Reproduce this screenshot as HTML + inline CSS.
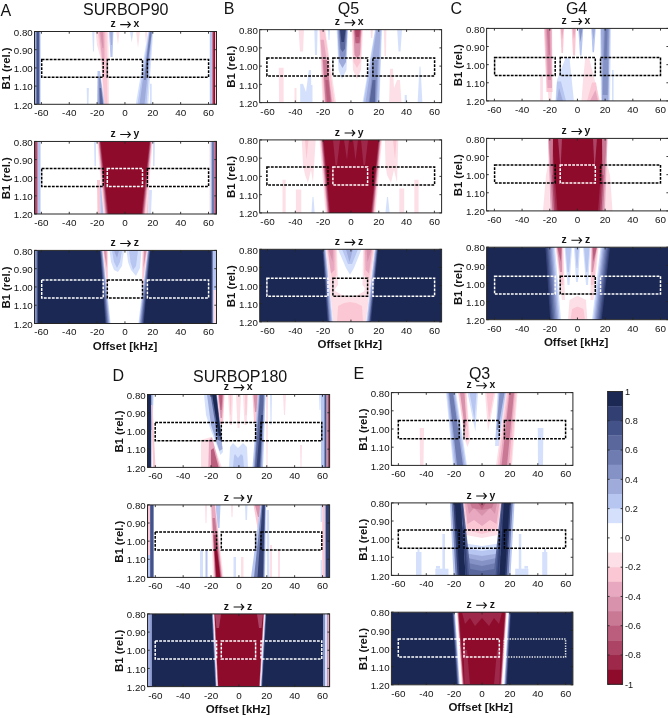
<!DOCTYPE html>
<html><head><meta charset="utf-8"><style>
html,body{margin:0;padding:0;background:#fff;}
body{width:668px;height:718px;overflow:hidden;}
svg{display:block;will-change:transform;}
text{font-family:"Liberation Sans",sans-serif;fill:#141414;}
</style></head><body>
<svg width="668" height="718" viewBox="0 0 668 718" shape-rendering="geometricPrecision">
<clipPath id="cA0"><rect x="34.5" y="31.5" width="182" height="72.8"/></clipPath>
<g clip-path="url(#cA0)">
<rect x="35" y="31.5" width="6" height="72.8" fill="#d5e1fc"/>
<rect x="35" y="31.5" width="5" height="72.8" fill="#9eabdb"/>
<rect x="36.3" y="31.5" width="3" height="72.8" fill="#59679d"/>
<rect x="37" y="31.5" width="1.7" height="72.8" fill="#44528a"/>
<rect x="209.8" y="31.5" width="2.4" height="72.8" fill="#b7c5f1"/>
<rect x="212.2" y="31.5" width="1" height="72.8" fill="#bb5e7e"/>
<rect x="213.2" y="31.5" width="1.8" height="72.8" fill="#8e0b2b"/>
<rect x="215" y="31.5" width="1.5" height="72.8" fill="#fbc7d4"/>
<polygon points="92.2,31.5 94.5,31.5 94,51.4 93,51.4" fill="#d5e1fc"/>
<polygon points="95.6,31.5 108.4,31.5 109,104.3 103.4,104.3 101,60 97,45" fill="#fde0e7"/>
<polygon points="97.5,31.5 106.5,31.5 107.5,104.3 104.5,104.3 101.5,60" fill="#fbc7d4"/>
<polygon points="99,31.5 104.5,31.5 104.5,62 102.5,62" fill="#e8a9c0"/>
<polygon points="100,31.5 103,31.5 103.5,48 102.5,48" fill="#d892ac"/>
<polygon points="109,31.5 113.4,31.5 112.5,57 110.5,57" fill="#b7c5f1"/>
<polygon points="110,31.5 112.5,31.5 112,45 111,45" fill="#9eabdb"/>
<polygon points="116.2,31.5 119.5,31.5 118,44.7" fill="#fde0e7"/>
<polygon points="97.5,71 100,71 104.5,104.3 97,104.3" fill="#b7c5f1"/>
<polygon points="98.5,78 100.5,78 103.5,104.3 98.5,104.3" fill="#8592c5"/>
<polygon points="99.5,88 101,88 103,104.3 100,104.3" fill="#59679d"/>
<polygon points="86.7,88 88.9,88 88.5,104.3 87,104.3" fill="#d5e1fc"/>
<polygon points="148.2,31.5 153.2,31.5 148.25,104.3 135.75,104.3" fill="#d5e1fc"/>
<polygon points="149.05,31.5 152.35,31.5 146.5,104.3 137.5,104.3" fill="#b7c5f1"/>
<polygon points="149.45,31.5 151.95,31.5 144.5,104.3 139.5,104.3" fill="#9eabdb"/>
<polygon points="149.8,31.5 151.8,31.5 145.7,80 144.1,80" fill="#6e7cb1"/>
<polygon points="136,31.5 140,31.5 138,48" fill="#fde0e7"/>
<polygon points="145,31.5 147.3,31.5 146,44.7" fill="#fde0e7"/>
<polygon points="130,31.5 133.4,31.5 131.7,42.5" fill="#d5e1fc"/>
<polygon points="150,83.7 151.7,83.7 151.7,104.3 150,104.3" fill="#d5e1fc"/>
<rect x="41.7" y="59.4" width="61.5" height="17.8" fill="none" stroke="#000" stroke-width="1.5" stroke-dasharray="2.8 1.2"/>
<rect x="107.3" y="59.4" width="35.2" height="17.8" fill="none" stroke="#000" stroke-width="1.5" stroke-dasharray="2.8 1.2"/>
<rect x="147.4" y="59.4" width="61.2" height="17.8" fill="none" stroke="#000" stroke-width="1.5" stroke-dasharray="2.8 1.2"/>
</g>
<rect x="34.5" y="31.5" width="182" height="72.8" fill="none" stroke="#262626" stroke-width="1"/>
<path d="M41.4 31.5v2.2M41.4 104.3v-2.2M69.25 31.5v2.2M69.25 104.3v-2.2M97.1 31.5v2.2M97.1 104.3v-2.2M124.95 31.5v2.2M124.95 104.3v-2.2M152.8 31.5v2.2M152.8 104.3v-2.2M180.65 31.5v2.2M180.65 104.3v-2.2M208.5 31.5v2.2M208.5 104.3v-2.2M34.5 31.5h2.2M216.5 31.5h-2.2M34.5 49.7h2.2M216.5 49.7h-2.2M34.5 67.9h2.2M216.5 67.9h-2.2M34.5 86.1h2.2M216.5 86.1h-2.2M34.5 104.3h2.2M216.5 104.3h-2.2" stroke="#262626" stroke-width="0.9" fill="none"/>
<path d="M120.2 24.6H130.25M127.55 21.6L130.4 24.6L127.55 27.6" stroke="#111" stroke-width="1.1" fill="none"/>
<clipPath id="cA1"><rect x="34.5" y="141.45" width="182" height="72.55"/></clipPath>
<g clip-path="url(#cA1)">
<rect x="35" y="141.45" width="2.8" height="72.55" fill="#bb5e7e"/>
<rect x="35" y="141.45" width="1.5" height="72.55" fill="#ac4466"/>
<rect x="37.8" y="141.45" width="2.7" height="72.55" fill="#b7c5f1"/>
<rect x="209.5" y="141.45" width="1.1" height="72.55" fill="#fde0e7"/>
<rect x="210.6" y="141.45" width="1.1" height="72.55" fill="#b7c5f1"/>
<rect x="211.7" y="141.45" width="2.8" height="72.55" fill="#6e7cb1"/>
<rect x="214.5" y="141.45" width="1.5" height="72.55" fill="#ac4466"/>
<polygon points="94,141.45 96,141.45 96,166 94.5,166" fill="#d5e1fc"/>
<polygon points="153,141.45 155,141.45 154.5,166 153,166" fill="#d5e1fc"/>
<polygon points="97,180 100,180 100.5,214 97.5,214" fill="#fbc7d4"/>
<polygon points="100,185 104,185 104.5,214 100.5,214" fill="#b7c5f1"/>
<polygon points="146,180 149,180 148.5,214 145.5,214" fill="#fbc7d4"/>
<polygon points="149,190 152,190 151,214 148.5,214" fill="#d5e1fc"/>
<polygon points="97.2,141.45 152.8,141.45 146.5,214 103.4,214" fill="#fde0e7"/>
<polygon points="97.88,141.45 152.14,141.45 145.5,214 104.4,214" fill="#fbc7d4"/>
<polygon points="98.56,141.45 151.48,141.45 144.5,214 105.4,214" fill="#d892ac"/>
<polygon points="99.24,141.45 150.82,141.45 143.5,214 106.4,214" fill="#bb5e7e"/>
<polygon points="99.92,141.45 150.16,141.45 142.5,214 107.4,214" fill="#9d284a"/>
<polygon points="100.6,141.45 149.5,141.45 141.5,214 108.4,214" fill="#8e0b2b"/>
<rect x="41.7" y="168.5" width="61.5" height="18" fill="none" stroke="#000" stroke-width="1.5" stroke-dasharray="2.8 1.2"/>
<rect x="107.3" y="168.5" width="35.2" height="18" fill="none" stroke="#fff" stroke-width="1.5" stroke-dasharray="2.8 1.2"/>
<rect x="147.4" y="168.5" width="61.2" height="18" fill="none" stroke="#000" stroke-width="1.5" stroke-dasharray="2.8 1.2"/>
</g>
<rect x="34.5" y="141.45" width="182" height="72.55" fill="none" stroke="#262626" stroke-width="1"/>
<path d="M41.4 141.45v2.2M41.4 214v-2.2M69.25 141.45v2.2M69.25 214v-2.2M97.1 141.45v2.2M97.1 214v-2.2M124.95 141.45v2.2M124.95 214v-2.2M152.8 141.45v2.2M152.8 214v-2.2M180.65 141.45v2.2M180.65 214v-2.2M208.5 141.45v2.2M208.5 214v-2.2M34.5 141.45h2.2M216.5 141.45h-2.2M34.5 159.59h2.2M216.5 159.59h-2.2M34.5 177.72h2.2M216.5 177.72h-2.2M34.5 195.86h2.2M216.5 195.86h-2.2M34.5 214h2.2M216.5 214h-2.2" stroke="#262626" stroke-width="0.9" fill="none"/>
<path d="M120.2 134.55H130.25M127.55 131.55L130.4 134.55L127.55 137.55" stroke="#111" stroke-width="1.1" fill="none"/>
<clipPath id="cA2"><rect x="34.5" y="250.4" width="182" height="73.1"/></clipPath>
<g clip-path="url(#cA2)">
<rect x="34.5" y="250.4" width="182" height="73.1" fill="#1b2853"/>
<rect x="35" y="250.4" width="2.5" height="73.1" fill="#6e7cb1"/>
<rect x="35" y="250.4" width="1.3" height="73.1" fill="#8592c5"/>
<rect x="211.7" y="250.4" width="4.8" height="73.1" fill="#6e7cb1"/>
<rect x="213" y="250.4" width="3.5" height="73.1" fill="#b7c5f1"/>
<rect x="213.5" y="290" width="3" height="33.5" fill="#fde0e7"/>
<polygon points="100,250.4 150.3,250.4 143.7,323.5 105.4,323.5" fill="#323f73"/>
<polygon points="100.38,250.4 149.93,250.4 143.02,323.5 106.06,323.5" fill="#44528a"/>
<polygon points="100.75,250.4 149.55,250.4 142.35,323.5 106.73,323.5" fill="#59679d"/>
<polygon points="101.12,250.4 149.18,250.4 141.68,323.5 107.39,323.5" fill="#6e7cb1"/>
<polygon points="101.5,250.4 148.8,250.4 141,323.5 108.05,323.5" fill="#8592c5"/>
<polygon points="101.88,250.4 148.43,250.4 140.32,323.5 108.71,323.5" fill="#9eabdb"/>
<polygon points="102.25,250.4 148.05,250.4 139.65,323.5 109.38,323.5" fill="#b7c5f1"/>
<polygon points="102.62,250.4 147.68,250.4 138.98,323.5 110.04,323.5" fill="#d5e1fc"/>
<polygon points="103,250.4 147.3,250.4 138.3,323.5 110.7,323.5" fill="#ffffff"/>
<polygon points="103,250.4 108,250.4 108,285 106.5,285" fill="#fde0e7"/>
<polygon points="103.3,250.4 107.3,250.4 107.5,278 106.5,278" fill="#fbc7d4"/>
<polygon points="103.8,250.4 106.5,250.4 106.8,268" fill="#d892ac"/>
<polygon points="142.3,250.4 147.3,250.4 143.5,285 142,285" fill="#fde0e7"/>
<polygon points="143,250.4 147,250.4 143.5,278 142.5,278" fill="#fbc7d4"/>
<polygon points="144,250.4 146.5,250.4 143.5,268" fill="#d892ac"/>
<polygon points="109.5,250.4 124,250.4 122,266 118,272 114,270 111,262" fill="#d5e1fc"/>
<polygon points="112,250.4 122,250.4 120,262 117,268 114,262" fill="#b7c5f1"/>
<polygon points="114,250.4 119,250.4 117,258" fill="#9eabdb"/>
<polygon points="126.5,250.4 141.5,250.4 140,268 136,276 131,270 128,262" fill="#d5e1fc"/>
<polygon points="129,250.4 138,250.4 136,266 133,270 130.5,262" fill="#b7c5f1"/>
<rect x="41.7" y="279.9" width="61.5" height="18" fill="none" stroke="#fff" stroke-width="1.5" stroke-dasharray="2.8 1.2"/>
<rect x="107.3" y="279.9" width="35.2" height="18" fill="none" stroke="#000" stroke-width="1.5" stroke-dasharray="2.8 1.2"/>
<rect x="147.4" y="279.9" width="61.2" height="18" fill="none" stroke="#fff" stroke-width="1.5" stroke-dasharray="2.8 1.2"/>
</g>
<rect x="34.5" y="250.4" width="182" height="73.1" fill="none" stroke="#262626" stroke-width="1"/>
<path d="M41.4 250.4v2.2M41.4 323.5v-2.2M69.25 250.4v2.2M69.25 323.5v-2.2M97.1 250.4v2.2M97.1 323.5v-2.2M124.95 250.4v2.2M124.95 323.5v-2.2M152.8 250.4v2.2M152.8 323.5v-2.2M180.65 250.4v2.2M180.65 323.5v-2.2M208.5 250.4v2.2M208.5 323.5v-2.2M34.5 250.4h2.2M216.5 250.4h-2.2M34.5 268.68h2.2M216.5 268.68h-2.2M34.5 286.95h2.2M216.5 286.95h-2.2M34.5 305.23h2.2M216.5 305.23h-2.2M34.5 323.5h2.2M216.5 323.5h-2.2" stroke="#262626" stroke-width="0.9" fill="none"/>
<path d="M120.2 243.5H130.25M127.55 240.5L130.4 243.5L127.55 246.5" stroke="#111" stroke-width="1.1" fill="none"/>
<clipPath id="cB0"><rect x="259.7" y="29.65" width="181.9" height="72.95"/></clipPath>
<g clip-path="url(#cB0)">
<polygon points="314.3,29.65 317.6,29.65 317,55 315,55" fill="#d5e1fc"/>
<polygon points="328,29.65 330,29.65 329.5,40 328.5,40" fill="#d5e1fc"/>
<polygon points="310,85 312.5,85 312.5,102.6 310,102.6" fill="#d5e1fc"/>
<polygon points="298.6,29.65 304,29.65 303,51.6 300,51.6" fill="#fde0e7"/>
<polygon points="278.8,67.7 283.6,67.7 283.6,102.6 279,102.6" fill="#fde0e7"/>
<polygon points="300.2,84 303,83.8 306,92 308.8,70 311,70 311.5,102.6 300.2,102.6" fill="#d5e1fc"/>
<polygon points="294.5,88 296.5,88 296.5,102.6 294.5,102.6" fill="#fde0e7"/>
<polygon points="370.6,29.65 372.8,29.65 372.3,38 371,38" fill="#fde0e7"/>
<polygon points="383.8,29.65 386.4,29.65 386,55.9 384.5,55.9" fill="#fde0e7"/>
<polygon points="389.1,102.6 390,68.8 393,68.8 394,88 397,80 400,80 401.5,102.6" fill="#fde0e7"/>
<polygon points="397.2,29.65 402,29.65 400.5,51.6 398.5,51.6" fill="#d5e1fc"/>
<polygon points="404.7,95 406.8,95 406.8,102.6 404.7,102.6" fill="#d5e1fc"/>
<polygon points="419.5,66.6 420.5,66.6 422.4,102.6 417.6,102.6" fill="#d5e1fc"/>
<polygon points="319.3,29.65 325.2,29.65 336,102.6 322.5,102.6" fill="#fde0e7"/>
<polygon points="319.8,29.65 324.7,29.65 334.5,102.6 323.5,102.6" fill="#fbc7d4"/>
<polygon points="320.5,39.65 323.8,39.65 332.5,102.6 325,102.6" fill="#e8a9c0"/>
<polygon points="322.91,60 326.91,60 331.5,102.6 325.5,102.6" fill="#ca7995"/>
<polygon points="325.33,80 328.33,80 330.5,102.6 327,102.6" fill="#bb5e7e"/>
<polygon points="336.6,29.65 348,29.65 346.5,70 342,79.2 338.5,70" fill="#d5e1fc"/>
<polygon points="337.5,29.65 347.5,29.65 346,62 342.5,68 339,62" fill="#9eabdb"/>
<polygon points="338.5,29.65 347,29.65 345.5,55 342.5,60 340,55" fill="#8592c5"/>
<polygon points="339.3,29.65 346,29.65 345,48.7 342.5,52 340.5,48.7" fill="#59679d"/>
<polygon points="340,29.65 345.5,29.65 344,42 341.5,42" fill="#323f73"/>
<polygon points="351.6,29.65 363,29.65 361,70 357,79.2 353,70" fill="#fde0e7"/>
<polygon points="352.5,29.65 362.2,29.65 360.5,62 357,68 353.5,62" fill="#fbc7d4"/>
<polygon points="353.5,29.65 361.5,29.65 360,55 357,58 354.5,55" fill="#d892ac"/>
<polygon points="354.3,29.65 360.9,29.65 359.5,43.3 355.5,43.3" fill="#bb5e7e"/>
<polygon points="355,29.65 360,29.65 359,37 356,37" fill="#ac4466"/>
<polygon points="375,29.65 382,29.65 379.5,102.6 362.5,102.6" fill="#d5e1fc"/>
<polygon points="375.5,29.65 381.5,29.65 378.8,102.6 363.5,102.6" fill="#b7c5f1"/>
<polygon points="376.5,29.65 380.5,29.65 377,102.6 365.5,102.6" fill="#9eabdb"/>
<polygon points="373.8,60 377.8,60 376,102.6 368.5,102.6" fill="#8592c5"/>
<polygon points="372.51,80 375.51,80 375,102.6 369.5,102.6" fill="#59679d"/>
<rect x="266.9" y="58" width="61.1" height="17.9" fill="none" stroke="#000" stroke-width="1.5" stroke-dasharray="2.8 1.2"/>
<rect x="332.9" y="58" width="34.7" height="17.9" fill="none" stroke="#000" stroke-width="1.5" stroke-dasharray="2.8 1.2"/>
<rect x="372.9" y="58" width="61.7" height="17.9" fill="none" stroke="#000" stroke-width="1.5" stroke-dasharray="2.8 1.2"/>
</g>
<rect x="259.7" y="29.65" width="181.9" height="72.95" fill="none" stroke="#262626" stroke-width="1"/>
<path d="M267.5 29.65v2.2M267.5 102.6v-2.2M295.32 29.65v2.2M295.32 102.6v-2.2M323.13 29.65v2.2M323.13 102.6v-2.2M350.95 29.65v2.2M350.95 102.6v-2.2M378.77 29.65v2.2M378.77 102.6v-2.2M406.58 29.65v2.2M406.58 102.6v-2.2M434.4 29.65v2.2M434.4 102.6v-2.2M259.7 29.65h2.2M441.6 29.65h-2.2M259.7 47.89h2.2M441.6 47.89h-2.2M259.7 66.12h2.2M441.6 66.12h-2.2M259.7 84.36h2.2M441.6 84.36h-2.2M259.7 102.6h2.2M441.6 102.6h-2.2" stroke="#262626" stroke-width="0.9" fill="none"/>
<path d="M344.6 22.75H354.65M351.95 19.75L354.8 22.75L351.95 25.75" stroke="#111" stroke-width="1.1" fill="none"/>
<clipPath id="cB1"><rect x="259.7" y="139.9" width="181.9" height="73"/></clipPath>
<g clip-path="url(#cB1)">
<polygon points="301.8,139.9 315.7,139.9 313,183 311,170 308,183 305,175 303,165" fill="#fde0e7"/>
<polygon points="305,139.9 308.5,139.9 306.5,160" fill="#fbc7d4"/>
<polygon points="282.5,179.8 285.7,179.8 285.7,212.9 282.5,212.9" fill="#fde0e7"/>
<polygon points="295.9,189.4 301.3,189.4 301.3,212.9 295.9,212.9" fill="#fde0e7"/>
<polygon points="312.5,197 313.5,197 314.7,212.9 311.4,212.9" fill="#d5e1fc"/>
<polygon points="384.9,139.9 398.3,139.9 397,183 394,170 391,183 387,175 385.5,165" fill="#fde0e7"/>
<polygon points="393,139.9 396.5,139.9 395,160" fill="#fbc7d4"/>
<polygon points="387,197 388,197 389.7,212.9 385.4,212.9" fill="#d5e1fc"/>
<polygon points="399.3,188.4 404.2,188.4 404.2,212.9 399.3,212.9" fill="#fde0e7"/>
<polygon points="414.3,179.8 418.6,179.8 418.6,212.9 414.3,212.9" fill="#fde0e7"/>
<polygon points="319.5,139.9 382,139.9 375.5,212.9 325.5,212.9" fill="#fde0e7"/>
<polygon points="320.3,139.9 381.3,139.9 374.6,212.9 326.4,212.9" fill="#fbc7d4"/>
<polygon points="321.1,139.9 380.6,139.9 373.7,212.9 327.3,212.9" fill="#d892ac"/>
<polygon points="321.9,139.9 379.9,139.9 372.8,212.9 328.2,212.9" fill="#bb5e7e"/>
<polygon points="322.7,139.9 379.2,139.9 371.9,212.9 329.1,212.9" fill="#9d284a"/>
<polygon points="323.5,139.9 378.5,139.9 371,212.9 330,212.9" fill="#8e0b2b"/>
<polygon points="333,139.9 340,139.9 337,165 335.5,165" fill="#9d284a"/>
<polygon points="344,139.9 349,139.9 347,160" fill="#9d284a"/>
<polygon points="353,139.9 358,139.9 355.5,160" fill="#9d284a"/>
<polygon points="361,139.9 368,139.9 365,165 363.5,165" fill="#9d284a"/>
<rect x="266.9" y="167" width="61.1" height="17.9" fill="none" stroke="#000" stroke-width="1.5" stroke-dasharray="2.8 1.2"/>
<rect x="332.9" y="167" width="34.7" height="17.9" fill="none" stroke="#fff" stroke-width="1.5" stroke-dasharray="2.8 1.2"/>
<rect x="372.9" y="167" width="61.7" height="17.9" fill="none" stroke="#000" stroke-width="1.5" stroke-dasharray="2.8 1.2"/>
</g>
<rect x="259.7" y="139.9" width="181.9" height="73" fill="none" stroke="#262626" stroke-width="1"/>
<path d="M267.5 139.9v2.2M267.5 212.9v-2.2M295.32 139.9v2.2M295.32 212.9v-2.2M323.13 139.9v2.2M323.13 212.9v-2.2M350.95 139.9v2.2M350.95 212.9v-2.2M378.77 139.9v2.2M378.77 212.9v-2.2M406.58 139.9v2.2M406.58 212.9v-2.2M434.4 139.9v2.2M434.4 212.9v-2.2M259.7 139.9h2.2M441.6 139.9h-2.2M259.7 158.15h2.2M441.6 158.15h-2.2M259.7 176.4h2.2M441.6 176.4h-2.2M259.7 194.65h2.2M441.6 194.65h-2.2M259.7 212.9h2.2M441.6 212.9h-2.2" stroke="#262626" stroke-width="0.9" fill="none"/>
<path d="M344.6 133H354.65M351.95 130L354.8 133L351.95 136" stroke="#111" stroke-width="1.1" fill="none"/>
<clipPath id="cB2"><rect x="259.7" y="249.3" width="181.9" height="72.5"/></clipPath>
<g clip-path="url(#cB2)">
<rect x="259.7" y="249.3" width="181.9" height="72.5" fill="#1b2853"/>
<polygon points="322.5,249.3 378,249.3 371,321.8 327.5,321.8" fill="#323f73"/>
<polygon points="323,249.3 377.5,249.3 370.29,321.8 328.29,321.8" fill="#44528a"/>
<polygon points="323.5,249.3 377,249.3 369.57,321.8 329.07,321.8" fill="#6e7cb1"/>
<polygon points="324,249.3 376.5,249.3 368.86,321.8 329.86,321.8" fill="#8592c5"/>
<polygon points="324.5,249.3 376,249.3 368.14,321.8 330.64,321.8" fill="#9eabdb"/>
<polygon points="325,249.3 375.5,249.3 367.43,321.8 331.43,321.8" fill="#b7c5f1"/>
<polygon points="325.5,249.3 375,249.3 366.71,321.8 332.21,321.8" fill="#d5e1fc"/>
<polygon points="326,249.3 374.5,249.3 366,321.8 333,321.8" fill="#ffffff"/>
<polygon points="326,249.3 331.5,249.3 338,321.8 333,321.8" fill="#fde0e7"/>
<polygon points="369,249.3 374.5,249.3 366,321.8 361,321.8" fill="#fde0e7"/>
<polygon points="333,321.8 366,321.8 366,290 358,295 350,297 342,295 333.5,290" fill="#fde0e7"/>
<polygon points="337,321.8 363,321.8 362,306 356,303 350,302 344,303 338,306" fill="#fbc7d4"/>
<polygon points="326,249.3 337,249.3 338,285 333,292" fill="#fde0e7"/>
<polygon points="327,249.3 336,249.3 336.5,275 332,280" fill="#fbc7d4"/>
<polygon points="328,249.3 334.5,249.3 334.5,270 331,273.5" fill="#e8a9c0"/>
<polygon points="328.5,249.3 333,249.3 332.5,262" fill="#d892ac"/>
<polygon points="363,249.3 374.5,249.3 368,292 362.5,285" fill="#fde0e7"/>
<polygon points="364,249.3 373.5,249.3 369,280 364,275" fill="#fbc7d4"/>
<polygon points="365,249.3 372,249.3 369,273.5 365.5,270" fill="#e8a9c0"/>
<polygon points="366.5,249.3 371.5,249.3 367.5,262" fill="#d892ac"/>
<polygon points="338,249.3 361.5,249.3 354,268 350,274.7 346,268" fill="#d5e1fc"/>
<polygon points="342,249.3 358,249.3 352,264 348,264" fill="#b7c5f1"/>
<polygon points="346,249.3 353,249.3 349.5,262" fill="#9eabdb"/>
<rect x="266.9" y="278.2" width="61.1" height="18" fill="none" stroke="#fff" stroke-width="1.5" stroke-dasharray="2.8 1.2"/>
<rect x="332.9" y="278.2" width="34.7" height="18" fill="none" stroke="#000" stroke-width="1.5" stroke-dasharray="2.8 1.2"/>
<rect x="372.9" y="278.2" width="61.7" height="18" fill="none" stroke="#fff" stroke-width="1.5" stroke-dasharray="2.8 1.2"/>
</g>
<rect x="259.7" y="249.3" width="181.9" height="72.5" fill="none" stroke="#262626" stroke-width="1"/>
<path d="M267.5 249.3v2.2M267.5 321.8v-2.2M295.32 249.3v2.2M295.32 321.8v-2.2M323.13 249.3v2.2M323.13 321.8v-2.2M350.95 249.3v2.2M350.95 321.8v-2.2M378.77 249.3v2.2M378.77 321.8v-2.2M406.58 249.3v2.2M406.58 321.8v-2.2M434.4 249.3v2.2M434.4 321.8v-2.2M259.7 249.3h2.2M441.6 249.3h-2.2M259.7 267.43h2.2M441.6 267.43h-2.2M259.7 285.55h2.2M441.6 285.55h-2.2M259.7 303.68h2.2M441.6 303.68h-2.2M259.7 321.8h2.2M441.6 321.8h-2.2" stroke="#262626" stroke-width="0.9" fill="none"/>
<path d="M344.6 242.4H354.65M351.95 239.4L354.8 242.4L351.95 245.4" stroke="#111" stroke-width="1.1" fill="none"/>
<clipPath id="cC0"><rect x="486.6" y="28.4" width="182" height="72.5"/></clipPath>
<g clip-path="url(#cC0)">
<polygon points="544,28.4 552.1,28.4 552.5,92 546.5,92" fill="#fbc7d4"/>
<polygon points="545,28.4 551.5,28.4 552,88 547.5,88" fill="#e8a9c0"/>
<polygon points="546.2,28.4 550,28.4 551,80 548,80" fill="#d892ac"/>
<polygon points="546.8,28.4 549.5,28.4 550,55 548.5,55" fill="#ca7995"/>
<polygon points="548,92 552,92 551.5,100.9 548.5,100.9" fill="#fde0e7"/>
<polygon points="540.2,76 542.9,76 542.9,100.9 540.2,100.9" fill="#fde0e7"/>
<polygon points="560.3,28.4 564,28.4 563,53 561.5,53" fill="#fbc7d4"/>
<polygon points="561,28.4 563.5,28.4 562,40" fill="#e8a9c0"/>
<polygon points="571.7,28.4 576,28.4 575,55.4 573,55.4" fill="#fbc7d4"/>
<polygon points="572.5,28.4 575.5,28.4 574,40" fill="#e8a9c0"/>
<polygon points="578.3,28.4 583.2,28.4 581.5,55.4 580,55.4" fill="#b7c5f1"/>
<polygon points="579,28.4 582.5,28.4 580.5,42" fill="#8592c5"/>
<polygon points="591.3,28.4 595.7,28.4 594,52.2 592.5,52.2" fill="#b7c5f1"/>
<polygon points="592,28.4 595,28.4 593.5,40" fill="#9eabdb"/>
<polygon points="600,28.4 611,28.4 610,100.9 601,100.9" fill="#d5e1fc"/>
<polygon points="601,28.4 609.8,28.4 608.5,100.9 602,100.9" fill="#9eabdb"/>
<polygon points="603.8,28.4 608.7,28.4 607.6,95 602.7,95" fill="#8592c5"/>
<polygon points="605,28.4 607.5,28.4 606.5,60 604,60" fill="#6e7cb1"/>
<polygon points="612,70 613.6,70 613.6,100.9 612,100.9" fill="#d5e1fc"/>
<polygon points="565.7,57.6 569.5,57.6 573.9,100.9 555.4,100.9 557,80" fill="#d5e1fc"/>
<polygon points="556,100.9 566,100.9 561,81.5 557,81.5" fill="#b7c5f1"/>
<polygon points="557,100.9 563,100.9 559,88" fill="#9eabdb"/>
<polygon points="585.3,57.6 589,57.6 600,100.9 581.5,100.9 583,80" fill="#fde0e7"/>
<polygon points="587,100.9 599,100.9 596,82.6 592,82.6" fill="#fbc7d4"/>
<polygon points="590,100.9 598,100.9 595.5,90" fill="#e8a9c0"/>
<rect x="494.6" y="57.6" width="60.6" height="17.8" fill="none" stroke="#000" stroke-width="1.5" stroke-dasharray="2.8 1.2"/>
<rect x="560.2" y="57.6" width="35.1" height="17.8" fill="none" stroke="#000" stroke-width="1.5" stroke-dasharray="2.8 1.2"/>
<rect x="600.5" y="57.6" width="60" height="17.8" fill="none" stroke="#000" stroke-width="1.5" stroke-dasharray="2.8 1.2"/>
</g>
<rect x="486.6" y="28.4" width="182" height="72.5" fill="none" stroke="#262626" stroke-width="1"/>
<path d="M494.4 28.4v2.2M494.4 100.9v-2.2M522.08 28.4v2.2M522.08 100.9v-2.2M549.77 28.4v2.2M549.77 100.9v-2.2M577.45 28.4v2.2M577.45 100.9v-2.2M605.13 28.4v2.2M605.13 100.9v-2.2M632.82 28.4v2.2M632.82 100.9v-2.2M660.5 28.4v2.2M660.5 100.9v-2.2M486.6 28.4h2.2M668.6 28.4h-2.2M486.6 46.52h2.2M668.6 46.52h-2.2M486.6 64.65h2.2M668.6 64.65h-2.2M486.6 82.78h2.2M668.6 82.78h-2.2M486.6 100.9h2.2M668.6 100.9h-2.2" stroke="#262626" stroke-width="0.9" fill="none"/>
<path d="M571.4 21.5H581.45M578.75 18.5L581.6 21.5L578.75 24.5" stroke="#111" stroke-width="1.1" fill="none"/>
<clipPath id="cC1"><rect x="486.6" y="138.4" width="182" height="72.5"/></clipPath>
<g clip-path="url(#cC1)">
<polygon points="546,175 549,160 550,210.9 543,210.9" fill="#fde0e7"/>
<polygon points="606,160 610,175 612.5,210.9 605,210.9" fill="#fde0e7"/>
<polygon points="548,138.4 607.5,138.4 605,210.9 550.5,210.9" fill="#e8a9c0"/>
<polygon points="549,138.4 606.5,138.4 603.25,210.9 552.25,210.9" fill="#ca7995"/>
<polygon points="550,138.4 605.5,138.4 601.5,210.9 554,210.9" fill="#ac4466"/>
<polygon points="551,138.4 604.5,138.4 599.75,210.9 555.75,210.9" fill="#9d284a"/>
<polygon points="552,138.4 603.5,138.4 598,210.9 557.5,210.9" fill="#8e0b2b"/>
<polygon points="549,138.4 553,138.4 552.5,175 551,175" fill="#ca7995"/>
<polygon points="558,138.4 562,138.4 560.5,170" fill="#ac4466"/>
<polygon points="593,138.4 597,138.4 594.5,170" fill="#ac4466"/>
<polygon points="602,138.4 606,138.4 604,175 602.5,175" fill="#ca7995"/>
<rect x="494.6" y="165" width="60.6" height="17.9" fill="none" stroke="#000" stroke-width="1.5" stroke-dasharray="2.8 1.2"/>
<rect x="560.2" y="165" width="35.1" height="17.9" fill="none" stroke="#fff" stroke-width="1.5" stroke-dasharray="2.8 1.2"/>
<rect x="600.5" y="165" width="60" height="17.9" fill="none" stroke="#000" stroke-width="1.5" stroke-dasharray="2.8 1.2"/>
</g>
<rect x="486.6" y="138.4" width="182" height="72.5" fill="none" stroke="#262626" stroke-width="1"/>
<path d="M494.4 138.4v2.2M494.4 210.9v-2.2M522.08 138.4v2.2M522.08 210.9v-2.2M549.77 138.4v2.2M549.77 210.9v-2.2M577.45 138.4v2.2M577.45 210.9v-2.2M605.13 138.4v2.2M605.13 210.9v-2.2M632.82 138.4v2.2M632.82 210.9v-2.2M660.5 138.4v2.2M660.5 210.9v-2.2M486.6 138.4h2.2M668.6 138.4h-2.2M486.6 156.53h2.2M668.6 156.53h-2.2M486.6 174.65h2.2M668.6 174.65h-2.2M486.6 192.78h2.2M668.6 192.78h-2.2M486.6 210.9h2.2M668.6 210.9h-2.2" stroke="#262626" stroke-width="0.9" fill="none"/>
<path d="M571.4 131.5H581.45M578.75 128.5L581.6 131.5L578.75 134.5" stroke="#111" stroke-width="1.1" fill="none"/>
<clipPath id="cC2"><rect x="486.6" y="247.2" width="182" height="72.5"/></clipPath>
<g clip-path="url(#cC2)">
<rect x="486.6" y="247.2" width="182" height="72.5" fill="#1b2853"/>
<polygon points="545.4,247.2 610,247.2 601.7,319.7 550.2,319.7" fill="#323f73"/>
<polygon points="546.6,247.2 608.81,247.2 600.49,319.7 551.55,319.7" fill="#44528a"/>
<polygon points="547.8,247.2 607.62,247.2 599.28,319.7 552.9,319.7" fill="#59679d"/>
<polygon points="549,247.2 606.44,247.2 598.06,319.7 554.25,319.7" fill="#6e7cb1"/>
<polygon points="550.2,247.2 605.25,247.2 596.85,319.7 555.6,319.7" fill="#8592c5"/>
<polygon points="551.4,247.2 604.06,247.2 595.64,319.7 556.95,319.7" fill="#9eabdb"/>
<polygon points="552.6,247.2 602.88,247.2 594.42,319.7 558.3,319.7" fill="#b7c5f1"/>
<polygon points="553.8,247.2 601.69,247.2 593.21,319.7 559.65,319.7" fill="#d5e1fc"/>
<polygon points="555,247.2 600.5,247.2 592,319.7 561,319.7" fill="#ffffff"/>
<polygon points="555.5,247.2 563.5,247.2 565,300 562,300" fill="#fde0e7"/>
<polygon points="556.2,247.2 562.7,247.2 563.5,285 561,285" fill="#fbc7d4"/>
<polygon points="557,247.2 562,247.2 562,272 560,272" fill="#d892ac"/>
<polygon points="557.5,247.2 561.5,247.2 560.8,262" fill="#bb5e7e"/>
<polygon points="590.5,247.2 598.5,247.2 593.5,300 590.5,300" fill="#fde0e7"/>
<polygon points="591.2,247.2 597.8,247.2 593.5,285 591,285" fill="#fbc7d4"/>
<polygon points="592,247.2 597,247.2 593,272 591.5,272" fill="#d892ac"/>
<polygon points="592.8,247.2 596.8,247.2 593.3,262" fill="#bb5e7e"/>
<polygon points="564.5,247.2 572,247.2 569.5,285 567.5,285" fill="#d5e1fc"/>
<polygon points="565.5,247.2 571,247.2 569,272 567.5,272" fill="#b7c5f1"/>
<polygon points="574,247.2 580,247.2 578,282 576,282" fill="#d5e1fc"/>
<polygon points="575,247.2 579,247.2 577.5,268 576.5,268" fill="#b7c5f1"/>
<polygon points="583,247.2 590.5,247.2 588,285 586,285" fill="#d5e1fc"/>
<polygon points="584,247.2 589.5,247.2 587.5,272 586,272" fill="#b7c5f1"/>
<polygon points="568,319.7 587.3,319.7 586,300 577.5,295.7 569.5,300" fill="#fde0e7"/>
<polygon points="570.5,319.7 585,319.7 583.5,309 577.5,306.5 572,309" fill="#fbc7d4"/>
<rect x="494.6" y="276.2" width="60.6" height="17.9" fill="none" stroke="#fff" stroke-width="1.5" stroke-dasharray="2.8 1.2"/>
<rect x="560.2" y="276.2" width="35.1" height="17.9" fill="none" stroke="#000" stroke-width="1.5" stroke-dasharray="2.8 1.2"/>
<rect x="600.5" y="276.2" width="60" height="17.9" fill="none" stroke="#fff" stroke-width="1.5" stroke-dasharray="2.8 1.2"/>
</g>
<rect x="486.6" y="247.2" width="182" height="72.5" fill="none" stroke="#262626" stroke-width="1"/>
<path d="M494.4 247.2v2.2M494.4 319.7v-2.2M522.08 247.2v2.2M522.08 319.7v-2.2M549.77 247.2v2.2M549.77 319.7v-2.2M577.45 247.2v2.2M577.45 319.7v-2.2M605.13 247.2v2.2M605.13 319.7v-2.2M632.82 247.2v2.2M632.82 319.7v-2.2M660.5 247.2v2.2M660.5 319.7v-2.2M486.6 247.2h2.2M668.6 247.2h-2.2M486.6 265.32h2.2M668.6 265.32h-2.2M486.6 283.45h2.2M668.6 283.45h-2.2M486.6 301.57h2.2M668.6 301.57h-2.2M486.6 319.7h2.2M668.6 319.7h-2.2" stroke="#262626" stroke-width="0.9" fill="none"/>
<path d="M571.4 240.3H581.45M578.75 237.3L581.6 240.3L578.75 243.3" stroke="#111" stroke-width="1.1" fill="none"/>
<clipPath id="cD0"><rect x="147.5" y="394.5" width="182.1" height="72.9"/></clipPath>
<g clip-path="url(#cD0)">
<polygon points="151,394.5 153.5,394.5 152.5,430 151,430" fill="#b7c5f1"/>
<rect x="147.5" y="394.5" width="3.8" height="72.9" fill="#44528a"/>
<rect x="148" y="394.5" width="2.8" height="72.9" fill="#1b2853"/>
<polygon points="151.3,405 152.5,405 155.5,467.4 153,467.4" fill="#fbc7d4"/>
<rect x="321" y="394.5" width="3.4" height="72.9" fill="#b7c5f1"/>
<rect x="324.4" y="394.5" width="2.3" height="72.9" fill="#44528a"/>
<rect x="327.3" y="394.5" width="2.3" height="72.9" fill="#ac4466"/>
<rect x="326.7" y="394.5" width="0.6" height="72.9" fill="#e8a9c0"/>
<polygon points="228,394.5 233,394.5 232,425 230,425" fill="#fde0e7"/>
<polygon points="236,394.5 241,394.5 239.5,428 237.5,428" fill="#fde0e7"/>
<polygon points="243,394.5 248,394.5 246.5,425 244.5,425" fill="#fde0e7"/>
<polygon points="229.5,394.5 231.5,394.5 231,415 230.5,415" fill="#fbc7d4"/>
<polygon points="245,394.5 247,394.5 246.5,415 245.5,415" fill="#fbc7d4"/>
<polygon points="217.5,394.5 224.5,394.5 223,424 219.5,424" fill="#fbc7d4"/>
<polygon points="218.5,394.5 223.5,394.5 222,418 220.5,418" fill="#d892ac"/>
<polygon points="219,394.5 222.5,394.5 221.5,410 220.5,410" fill="#bb5e7e"/>
<polygon points="201,440 211,437 222,467.4 201,467.4" fill="#fde0e7"/>
<polygon points="209,440 212,437 220,467.4 208.3,467.4" fill="#e8a9c0"/>
<polygon points="211,450 213.5,448 218.6,467.4 211,467.4" fill="#bb5e7e"/>
<polygon points="204,394.5 217,394.5 223,452 220.5,455 210,428 206,415" fill="#d5e1fc"/>
<polygon points="207,394.5 216.8,394.5 222.5,449 219.5,451 211,425" fill="#9eabdb"/>
<polygon points="210.5,394.5 216.5,394.5 222,442 218,440" fill="#59679d"/>
<polygon points="212.1,394.5 216,394.5 221,436 218.8,436" fill="#1b2853"/>
<polygon points="229,467.4 248,467.4 247,447 243,443 238,448 233,443 230,447" fill="#d5e1fc"/>
<polygon points="233,467.4 244,467.4 243,456 241,454 238,458 235,454 234,456" fill="#b7c5f1"/>
<polygon points="252.5,394.5 258.5,394.5 257.5,422 254,422" fill="#fbc7d4"/>
<polygon points="253.5,394.5 257.5,394.5 256.5,412 255,412" fill="#d892ac"/>
<polygon points="258,394.5 265.5,394.5 263,467.4 252.5,467.4" fill="#b7c5f1"/>
<polygon points="259.2,394.5 264.5,394.5 261.5,467.4 254,467.4" fill="#8592c5"/>
<polygon points="260,394.5 263.7,394.5 260.5,467.4 255,467.4" fill="#59679d"/>
<polygon points="261,415 263,415 259.5,467.4 256.5,467.4" fill="#323f73"/>
<polygon points="266,394.5 268,394.5 267.5,467.4 266.5,467.4" fill="#fde0e7"/>
<polygon points="270,394.5 272,394.5 271.5,425 270.5,425" fill="#d5e1fc"/>
<polygon points="283,394.5 286,394.5 285,415 284,415" fill="#fde0e7"/>
<polygon points="300,445 302,445 301.5,467.4 300.5,467.4" fill="#fde0e7"/>
<polygon points="319,394.5 321,394.5 320.5,410 319.5,410" fill="#d5e1fc"/>
<rect x="155.2" y="422.4" width="61.4" height="18.3" fill="none" stroke="#000" stroke-width="1.5" stroke-dasharray="2.8 1.2"/>
<rect x="221.3" y="422.4" width="34.3" height="18.3" fill="none" stroke="#000" stroke-width="1.5" stroke-dasharray="2.8 1.2"/>
<rect x="261" y="422.4" width="60.8" height="18.3" fill="none" stroke="#000" stroke-width="1.5" stroke-dasharray="2.8 1.2"/>
</g>
<rect x="147.5" y="394.5" width="182.1" height="72.9" fill="none" stroke="#262626" stroke-width="1"/>
<path d="M155.3 394.5v2.2M155.3 467.4v-2.2M183.17 394.5v2.2M183.17 467.4v-2.2M211.03 394.5v2.2M211.03 467.4v-2.2M238.9 394.5v2.2M238.9 467.4v-2.2M266.77 394.5v2.2M266.77 467.4v-2.2M294.63 394.5v2.2M294.63 467.4v-2.2M322.5 394.5v2.2M322.5 467.4v-2.2M147.5 394.5h2.2M329.6 394.5h-2.2M147.5 412.73h2.2M329.6 412.73h-2.2M147.5 430.95h2.2M329.6 430.95h-2.2M147.5 449.17h2.2M329.6 449.17h-2.2M147.5 467.4h2.2M329.6 467.4h-2.2" stroke="#262626" stroke-width="0.9" fill="none"/>
<path d="M233.6 387.6H243.65M240.95 384.6L243.8 387.6L240.95 390.6" stroke="#111" stroke-width="1.1" fill="none"/>
<clipPath id="cD1"><rect x="147.5" y="504.9" width="182.1" height="72.5"/></clipPath>
<g clip-path="url(#cD1)">
<rect x="147.5" y="504.9" width="2.5" height="72.5" fill="#fbc7d4"/>
<rect x="147.5" y="555" width="2.5" height="22.4" fill="#b7c5f1"/>
<rect x="150" y="504.9" width="3.7" height="72.5" fill="#6e7cb1"/>
<rect x="150.5" y="504.9" width="2.7" height="72.5" fill="#44528a"/>
<rect x="322.3" y="504.9" width="2.5" height="72.5" fill="#fbc7d4"/>
<rect x="320.6" y="504.9" width="1.7" height="17.1" fill="#d5e1fc"/>
<rect x="320.6" y="560" width="1.4" height="17.4" fill="#d5e1fc"/>
<rect x="324.8" y="504.9" width="0.9" height="72.5" fill="#9eabdb"/>
<rect x="325.7" y="504.9" width="3.9" height="72.5" fill="#323f73"/>
<polygon points="205,504.9 207,504.9 206.5,522.9 205.5,522.9" fill="#fde0e7"/>
<polygon points="231,504.9 233,504.9 232.5,516.9 231.5,516.9" fill="#fde0e7"/>
<polygon points="245,504.9 247.5,504.9 247,519.9 245.5,519.9" fill="#d5e1fc"/>
<polygon points="200,549.9 203,549.9 203,577.4 200,577.4" fill="#d5e1fc"/>
<polygon points="205.5,549.9 207.5,549.9 207.5,577.4 205.5,577.4" fill="#b7c5f1"/>
<polygon points="233.5,556.9 236,556.9 236,577.4 233.5,577.4" fill="#d5e1fc"/>
<polygon points="241,556.9 243.5,556.9 243.5,577.4 241,577.4" fill="#fde0e7"/>
<polygon points="266.5,509.9 269,509.9 269.5,577.4 267,577.4" fill="#d5e1fc"/>
<polygon points="270,544.9 272,544.9 272,577.4 270,577.4" fill="#fde0e7"/>
<polygon points="278,549.9 280,549.9 280,577.4 278,577.4" fill="#fde0e7"/>
<polygon points="215.5,504.9 220.5,504.9 219.5,527.9 217,527.9" fill="#b7c5f1"/>
<polygon points="210.5,504.9 215.5,504.9 223.5,577.4 213,577.4" fill="#fde0e7"/>
<polygon points="211.3,504.9 214.8,504.9 222.3,577.4 214.5,577.4" fill="#e8a9c0"/>
<polygon points="212.5,518 215,518 221.5,577.4 215,577.4" fill="#ca7995"/>
<polygon points="213.5,535 216,535 220.8,577.4 215.8,577.4" fill="#ac4466"/>
<polygon points="214.5,550 217,550 220.3,577.4 216.3,577.4" fill="#8e0b2b"/>
<polygon points="253.5,504.9 261.5,504.9 260,527.9 257.5,527.9" fill="#fbc7d4"/>
<polygon points="255,504.9 260,504.9 259.5,516.9 258,516.9" fill="#d892ac"/>
<polygon points="260.5,504.9 266,504.9 265,577.4 251,577.4" fill="#b7c5f1"/>
<polygon points="261.7,504.9 265.3,504.9 264,577.4 254,577.4" fill="#6e7cb1"/>
<polygon points="262.5,504.9 264.8,504.9 263,577.4 257.5,577.4" fill="#323f73"/>
<rect x="155.2" y="531.9" width="61.4" height="18" fill="none" stroke="#000" stroke-width="1.5" stroke-dasharray="2.8 1.2"/>
<rect x="221.3" y="531.9" width="34.3" height="18" fill="none" stroke="#000" stroke-width="1.5" stroke-dasharray="2.8 1.2"/>
<rect x="261" y="531.9" width="60.8" height="18" fill="none" stroke="#000" stroke-width="1.5" stroke-dasharray="2.8 1.2"/>
</g>
<rect x="147.5" y="504.9" width="182.1" height="72.5" fill="none" stroke="#262626" stroke-width="1"/>
<path d="M155.3 504.9v2.2M155.3 577.4v-2.2M183.17 504.9v2.2M183.17 577.4v-2.2M211.03 504.9v2.2M211.03 577.4v-2.2M238.9 504.9v2.2M238.9 577.4v-2.2M266.77 504.9v2.2M266.77 577.4v-2.2M294.63 504.9v2.2M294.63 577.4v-2.2M322.5 504.9v2.2M322.5 577.4v-2.2M147.5 504.9h2.2M329.6 504.9h-2.2M147.5 523.02h2.2M329.6 523.02h-2.2M147.5 541.15h2.2M329.6 541.15h-2.2M147.5 559.27h2.2M329.6 559.27h-2.2M147.5 577.4h2.2M329.6 577.4h-2.2" stroke="#262626" stroke-width="0.9" fill="none"/>
<path d="M233.6 498H243.65M240.95 495L243.8 498L240.95 501" stroke="#111" stroke-width="1.1" fill="none"/>
<clipPath id="cD2"><rect x="147.5" y="613.9" width="182.1" height="72.7"/></clipPath>
<g clip-path="url(#cD2)">
<rect x="147.5" y="613.9" width="182.1" height="72.7" fill="#1b2853"/>
<rect x="147.5" y="613.9" width="4.5" height="72.7" fill="#8592c5"/>
<rect x="148" y="613.9" width="2.5" height="72.7" fill="#9eabdb"/>
<rect x="323" y="613.9" width="2" height="72.7" fill="#8592c5"/>
<rect x="325" y="613.9" width="2.2" height="72.7" fill="#d5e1fc"/>
<rect x="327.2" y="613.9" width="2.4" height="72.7" fill="#e8a9c0"/>
<polygon points="211.8,613.9 266.3,613.9 262.1,686.6 215.4,686.6" fill="#59679d"/>
<polygon points="212.5,613.9 265.6,613.9 261.4,686.6 216.1,686.6" fill="#b7c5f1"/>
<polygon points="213.2,613.9 264.9,613.9 260.7,686.6 216.8,686.6" fill="#ffffff"/>
<polygon points="213.9,613.9 264.2,613.9 260,686.6 217.5,686.6" fill="#d892ac"/>
<polygon points="214.6,613.9 263.5,613.9 259.3,686.6 218.2,686.6" fill="#8e0b2b"/>
<polygon points="215,613.9 221,613.9 219,628 216.5,628" fill="#ac4466"/>
<polygon points="257,613.9 263,613.9 261.5,628 259,628" fill="#ac4466"/>
<rect x="155.2" y="640.9" width="61.4" height="18" fill="none" stroke="#fff" stroke-width="1.5" stroke-dasharray="2.8 1.2"/>
<rect x="221.3" y="640.9" width="34.3" height="18" fill="none" stroke="#fff" stroke-width="1.5" stroke-dasharray="2.8 1.2"/>
<rect x="261" y="640.9" width="60.8" height="18" fill="none" stroke="#fff" stroke-width="1.5" stroke-dasharray="2.8 1.2"/>
</g>
<rect x="147.5" y="613.9" width="182.1" height="72.7" fill="none" stroke="#262626" stroke-width="1"/>
<path d="M155.3 613.9v2.2M155.3 686.6v-2.2M183.17 613.9v2.2M183.17 686.6v-2.2M211.03 613.9v2.2M211.03 686.6v-2.2M238.9 613.9v2.2M238.9 686.6v-2.2M266.77 613.9v2.2M266.77 686.6v-2.2M294.63 613.9v2.2M294.63 686.6v-2.2M322.5 613.9v2.2M322.5 686.6v-2.2M147.5 613.9h2.2M329.6 613.9h-2.2M147.5 632.08h2.2M329.6 632.08h-2.2M147.5 650.25h2.2M329.6 650.25h-2.2M147.5 668.42h2.2M329.6 668.42h-2.2M147.5 686.6h2.2M329.6 686.6h-2.2" stroke="#262626" stroke-width="0.9" fill="none"/>
<path d="M233.6 607H243.65M240.95 604L243.8 607L240.95 610" stroke="#111" stroke-width="1.1" fill="none"/>
<clipPath id="cE0"><rect x="391.4" y="392.6" width="181.5" height="72.8"/></clipPath>
<g clip-path="url(#cE0)">
<polygon points="419.7,428 424,428 423.5,465.4 420,465.4" fill="#fde0e7"/>
<polygon points="537.7,428 543.4,428 543,465.4 538,465.4" fill="#d5e1fc"/>
<polygon points="446,392.6 456,392.6 467,465.4 453,465.4" fill="#d5e1fc"/>
<polygon points="447,392.6 455,392.6 466,465.4 454,465.4" fill="#b7c5f1"/>
<polygon points="448,392.6 454,392.6 464.5,465.4 455.5,465.4" fill="#9eabdb"/>
<polygon points="449,392.6 453,392.6 463,465.4 457,465.4" fill="#6e7cb1"/>
<polygon points="458,392.6 466.5,392.6 470,440 467.5,447 465,440" fill="#fde0e7"/>
<polygon points="458.6,392.6 466,392.6 468.5,435 466.5,442 464.5,435" fill="#fbc7d4"/>
<polygon points="460,392.6 464.5,392.6 466.5,425 465,430" fill="#d892ac"/>
<polygon points="467.5,392.6 478,392.6 475.4,432" fill="#d5e1fc"/>
<polygon points="469.5,392.6 476.5,392.6 474.5,420" fill="#b7c5f1"/>
<polygon points="485,392.6 495.5,392.6 488,432" fill="#fde0e7"/>
<polygon points="486.5,392.6 494,392.6 489,420" fill="#fbc7d4"/>
<polygon points="497.5,392.6 506.5,392.6 499,446 495,446" fill="#d5e1fc"/>
<polygon points="498.3,392.6 505.7,392.6 498.5,440 495.5,440" fill="#b7c5f1"/>
<polygon points="499.5,392.6 504.5,392.6 498,430 496.5,430" fill="#8592c5"/>
<polygon points="506,392.6 517.5,392.6 512,465.4 496,465.4" fill="#fde0e7"/>
<polygon points="507,392.6 516.5,392.6 511,465.4 497.6,465.4" fill="#fbc7d4"/>
<polygon points="508.5,392.6 515,392.6 509,465.4 499.5,465.4" fill="#e8a9c0"/>
<polygon points="509.5,392.6 514,392.6 507,465.4 501.5,465.4" fill="#ca7995"/>
<rect x="398.3" y="420.6" width="60.9" height="18.1" fill="none" stroke="#000" stroke-width="1.5" stroke-dasharray="2.8 1.2"/>
<rect x="464" y="420.6" width="35.3" height="18.1" fill="none" stroke="#000" stroke-width="1.5" stroke-dasharray="2.8 1.2"/>
<rect x="504.4" y="420.6" width="61.2" height="18.1" fill="none" stroke="#000" stroke-width="1.5" stroke-dasharray="2.8 1.2"/>
</g>
<rect x="391.4" y="392.6" width="181.5" height="72.8" fill="none" stroke="#262626" stroke-width="1"/>
<path d="M398.4 392.6v2.2M398.4 465.4v-2.2M426.28 392.6v2.2M426.28 465.4v-2.2M454.17 392.6v2.2M454.17 465.4v-2.2M482.05 392.6v2.2M482.05 465.4v-2.2M509.93 392.6v2.2M509.93 465.4v-2.2M537.82 392.6v2.2M537.82 465.4v-2.2M565.7 392.6v2.2M565.7 465.4v-2.2M391.4 392.6h2.2M572.9 392.6h-2.2M391.4 410.8h2.2M572.9 410.8h-2.2M391.4 429h2.2M572.9 429h-2.2M391.4 447.2h2.2M572.9 447.2h-2.2M391.4 465.4h2.2M572.9 465.4h-2.2" stroke="#262626" stroke-width="0.9" fill="none"/>
<path d="M476.2 385.7H486.25M483.55 382.7L486.4 385.7L483.55 388.7" stroke="#111" stroke-width="1.1" fill="none"/>
<clipPath id="cE1"><rect x="391.4" y="502.9" width="181.5" height="72.5"/></clipPath>
<g clip-path="url(#cE1)">
<rect x="416" y="552" width="5.5" height="23.4" fill="#d5e1fc"/>
<rect x="417.5" y="549" width="2" height="3" fill="#d5e1fc"/>
<rect x="442.4" y="534" width="2.6" height="41.4" fill="#d5e1fc"/>
<rect x="435.3" y="568.7" width="13.2" height="6.7" fill="#d5e1fc"/>
<rect x="436" y="566" width="4" height="2.7" fill="#d5e1fc"/>
<rect x="518.8" y="534" width="2.5" height="41.4" fill="#d5e1fc"/>
<rect x="515.2" y="568.7" width="13.2" height="6.7" fill="#d5e1fc"/>
<rect x="524.4" y="566" width="3.6" height="2.7" fill="#d5e1fc"/>
<rect x="542.2" y="552" width="5.1" height="23.4" fill="#d5e1fc"/>
<rect x="544" y="549" width="2" height="3" fill="#d5e1fc"/>
<polygon points="450,502.9 514.5,502.9 510.5,575.4 453.5,575.4" fill="#b7c5f1"/>
<polygon points="451.7,502.9 512.7,502.9 508.6,575.4 455.55,575.4" fill="#6e7cb1"/>
<polygon points="453.4,502.9 510.9,502.9 506.7,575.4 457.6,575.4" fill="#323f73"/>
<polygon points="455,502.9 460.5,502.9 465.5,575.4 459.5,575.4" fill="#1b2853"/>
<polygon points="504,502.9 509.5,502.9 505,575.4 499.5,575.4" fill="#1b2853"/>
<clipPath id="e2in"><polygon points="461.6,502.9 502.7,502.9 498.5,575.4 465.8,575.4"/></clipPath><g clip-path="url(#e2in)">
<polygon points="461.8,502.9 502.5,502.9 498.3,575.4 466,575.4" fill="#59679d"/>
<polygon points="462,502.9 502.5,502.9 500,568 482,571 465,568" fill="#6e7cb1"/>
<polygon points="462,502.9 502.5,502.9 501,562 482,566 463.5,562" fill="#8592c5"/>
<polygon points="462,502.9 502.5,502.9 501.5,557 482,561 463,557" fill="#9eabdb"/>
<polygon points="462,502.9 502.5,502.9 501.5,553 482,556 463,553" fill="#b7c5f1"/>
<polygon points="462,502.9 502.5,502.9 502,548 482,551 462.5,548" fill="#d5e1fc"/>
<polygon points="462,502.9 502.5,502.9 502,543 482,546 462.5,543" fill="#ffffff"/>
<polygon points="462.5,502.9 502,502.9 498,535 482,538 466,535" fill="#fde0e7"/>
<polygon points="463.5,502.9 501,502.9 497,530 482,534 467,530" fill="#fbc7d4"/>
<polygon points="465,502.9 499.5,502.9 496.5,524 490,520 482,526 474,520 467.5,524" fill="#e8a9c0"/>
<polygon points="467,502.9 497,502.9 495,514 490,508 482,516 474,508 469,514" fill="#d892ac"/>
<polygon points="470,502.9 494,502.9 492,508 482,510 472,508" fill="#ca7995"/>
<polygon points="478,502.9 486,502.9 482,509" fill="#bb5e7e"/>
</g>
<polygon points="461.5,502.9 463.2,502.9 471,575.4 465.5,575.4" fill="#59679d"/>
<polygon points="461.5,502.9 462.6,502.9 469,575.4 465.5,575.4" fill="#44528a"/>
<polygon points="461.5,502.9 462.2,502.9 467.3,575.4 465.5,575.4" fill="#323f73"/>
<polygon points="501.3,502.9 503,502.9 499,575.4 493.5,575.4" fill="#59679d"/>
<polygon points="501.9,502.9 503,502.9 499,575.4 495.5,575.4" fill="#44528a"/>
<polygon points="502.3,502.9 503,502.9 499,575.4 497.2,575.4" fill="#323f73"/>
<rect x="398.3" y="530" width="60.9" height="18.2" fill="none" stroke="#000" stroke-width="1.5" stroke-dasharray="2.8 1.2"/>
<rect x="464" y="530" width="35.3" height="18.2" fill="none" stroke="#000" stroke-width="1.5" stroke-dasharray="2.8 1.2"/>
<rect x="504.4" y="530" width="61.2" height="18.2" fill="none" stroke="#000" stroke-width="1.5" stroke-dasharray="2.8 1.2"/>
</g>
<rect x="391.4" y="502.9" width="181.5" height="72.5" fill="none" stroke="#262626" stroke-width="1"/>
<path d="M398.4 502.9v2.2M398.4 575.4v-2.2M426.28 502.9v2.2M426.28 575.4v-2.2M454.17 502.9v2.2M454.17 575.4v-2.2M482.05 502.9v2.2M482.05 575.4v-2.2M509.93 502.9v2.2M509.93 575.4v-2.2M537.82 502.9v2.2M537.82 575.4v-2.2M565.7 502.9v2.2M565.7 575.4v-2.2M391.4 502.9h2.2M572.9 502.9h-2.2M391.4 521.02h2.2M572.9 521.02h-2.2M391.4 539.15h2.2M572.9 539.15h-2.2M391.4 557.27h2.2M572.9 557.27h-2.2M391.4 575.4h2.2M572.9 575.4h-2.2" stroke="#262626" stroke-width="0.9" fill="none"/>
<path d="M476.2 496H486.25M483.55 493L486.4 496L483.55 499" stroke="#111" stroke-width="1.1" fill="none"/>
<clipPath id="cE2"><rect x="391.4" y="612.2" width="181.5" height="72.6"/></clipPath>
<g clip-path="url(#cE2)">
<rect x="391.4" y="612.2" width="181.5" height="72.6" fill="#1b2853"/>
<polygon points="452.3,612.2 511,612.2 507,684.8 456.8,684.8" fill="#323f73"/>
<polygon points="452.97,612.2 510.38,612.2 506.3,684.8 457.54,684.8" fill="#59679d"/>
<polygon points="453.64,612.2 509.76,612.2 505.6,684.8 458.28,684.8" fill="#8592c5"/>
<polygon points="454.31,612.2 509.14,612.2 504.9,684.8 459.02,684.8" fill="#b7c5f1"/>
<polygon points="454.98,612.2 508.52,612.2 504.2,684.8 459.76,684.8" fill="#ffffff"/>
<polygon points="455.65,612.2 507.9,612.2 503.5,684.8 460.5,684.8" fill="#ffffff"/>
<polygon points="456.32,612.2 507.28,612.2 502.8,684.8 461.24,684.8" fill="#ffffff"/>
<polygon points="456.99,612.2 506.66,612.2 502.1,684.8 461.98,684.8" fill="#fbc7d4"/>
<polygon points="457.66,612.2 506.04,612.2 501.4,684.8 462.72,684.8" fill="#ca7995"/>
<polygon points="458.33,612.2 505.42,612.2 500.7,684.8 463.46,684.8" fill="#9d284a"/>
<polygon points="459,612.2 504.8,612.2 500,684.8 464.2,684.8" fill="#8e0b2b"/>
<polygon points="462,612.2 502,612.2 499,624 494,618 489,626 482,618 475,626 470,618 465,624" fill="#9d284a"/>
<polygon points="463.5,650 467,650 470,684.8 464.5,684.8" fill="#9d284a"/>
<polygon points="497,650 500.5,650 499.5,684.8 494,684.8" fill="#9d284a"/>
<rect x="398.3" y="639" width="60.9" height="18" fill="none" stroke="#fff" stroke-width="1.5" stroke-dasharray="2.8 1.2"/>
<rect x="464" y="639" width="35.3" height="18" fill="none" stroke="#fff" stroke-width="1.5" stroke-dasharray="2.8 1.2"/>
<rect x="504.4" y="639" width="61.2" height="18" fill="none" stroke="#f4f4f4" stroke-width="1.5" stroke-dasharray="1.3 1.3"/>
</g>
<rect x="391.4" y="612.2" width="181.5" height="72.6" fill="none" stroke="#262626" stroke-width="1"/>
<path d="M398.4 612.2v2.2M398.4 684.8v-2.2M426.28 612.2v2.2M426.28 684.8v-2.2M454.17 612.2v2.2M454.17 684.8v-2.2M482.05 612.2v2.2M482.05 684.8v-2.2M509.93 612.2v2.2M509.93 684.8v-2.2M537.82 612.2v2.2M537.82 684.8v-2.2M565.7 612.2v2.2M565.7 684.8v-2.2M391.4 612.2h2.2M572.9 612.2h-2.2M391.4 630.35h2.2M572.9 630.35h-2.2M391.4 648.5h2.2M572.9 648.5h-2.2M391.4 666.65h2.2M572.9 666.65h-2.2M391.4 684.8h2.2M572.9 684.8h-2.2" stroke="#262626" stroke-width="0.9" fill="none"/>
<path d="M476.2 605.3H486.25M483.55 602.3L486.4 605.3L483.55 608.3" stroke="#111" stroke-width="1.1" fill="none"/>
<rect x="607.6" y="391.5" width="15" height="14.94" fill="#1b2853"/>
<rect x="607.6" y="406.14" width="15" height="14.94" fill="#323f73"/>
<rect x="607.6" y="420.78" width="15" height="14.94" fill="#44528a"/>
<rect x="607.6" y="435.42" width="15" height="14.94" fill="#59679d"/>
<rect x="607.6" y="450.06" width="15" height="14.94" fill="#6e7cb1"/>
<rect x="607.6" y="464.7" width="15" height="14.94" fill="#8592c5"/>
<rect x="607.6" y="479.34" width="15" height="14.94" fill="#9eabdb"/>
<rect x="607.6" y="493.98" width="15" height="14.94" fill="#b7c5f1"/>
<rect x="607.6" y="508.62" width="15" height="14.94" fill="#d5e1fc"/>
<rect x="607.6" y="523.26" width="15" height="14.94" fill="#ffffff"/>
<rect x="607.6" y="537.9" width="15" height="14.94" fill="#ffffff"/>
<rect x="607.6" y="552.54" width="15" height="14.94" fill="#fde0e7"/>
<rect x="607.6" y="567.18" width="15" height="14.94" fill="#fbc7d4"/>
<rect x="607.6" y="581.82" width="15" height="14.94" fill="#e8a9c0"/>
<rect x="607.6" y="596.46" width="15" height="14.94" fill="#d892ac"/>
<rect x="607.6" y="611.1" width="15" height="14.94" fill="#ca7995"/>
<rect x="607.6" y="625.74" width="15" height="14.94" fill="#bb5e7e"/>
<rect x="607.6" y="640.38" width="15" height="14.94" fill="#ac4466"/>
<rect x="607.6" y="655.02" width="15" height="14.94" fill="#9d284a"/>
<rect x="607.6" y="669.66" width="15" height="14.94" fill="#8e0b2b"/>
<rect x="607.6" y="391.5" width="15" height="292.8" fill="none" stroke="#262626" stroke-width="0.9"/>
<path d="M622.6 391.5h-2M607.6 391.5h2M622.6 420.78h-2M607.6 420.78h2M622.6 450.06h-2M607.6 450.06h2M622.6 479.34h-2M607.6 479.34h2M622.6 508.62h-2M607.6 508.62h2M622.6 537.9h-2M607.6 537.9h2M622.6 567.18h-2M607.6 567.18h2M622.6 596.46h-2M607.6 596.46h2M622.6 625.74h-2M607.6 625.74h2M622.6 655.02h-2M607.6 655.02h2M622.6 684.3h-2M607.6 684.3h2" stroke="#262626" stroke-width="0.9" fill="none"/>
<text x="41.4" y="116.2" font-size="9.9" text-anchor="middle" font-weight="normal">-60</text>
<text x="69.25" y="116.2" font-size="9.9" text-anchor="middle" font-weight="normal">-40</text>
<text x="97.1" y="116.2" font-size="9.9" text-anchor="middle" font-weight="normal">-20</text>
<text x="124.95" y="116.2" font-size="9.9" text-anchor="middle" font-weight="normal">0</text>
<text x="152.8" y="116.2" font-size="9.9" text-anchor="middle" font-weight="normal">20</text>
<text x="180.65" y="116.2" font-size="9.9" text-anchor="middle" font-weight="normal">40</text>
<text x="208.5" y="116.2" font-size="9.9" text-anchor="middle" font-weight="normal">60</text>
<text x="32.7" y="35.7" font-size="9.7" text-anchor="end" font-weight="normal">0.80</text>
<text x="32.7" y="53.9" font-size="9.7" text-anchor="end" font-weight="normal">0.90</text>
<text x="32.7" y="72.1" font-size="9.7" text-anchor="end" font-weight="normal">1.00</text>
<text x="32.7" y="90.3" font-size="9.7" text-anchor="end" font-weight="normal">1.10</text>
<text x="32.7" y="108.5" font-size="9.7" text-anchor="end" font-weight="normal">1.20</text>
<text x="0" y="0" font-size="11.3" font-weight="bold" text-anchor="middle" transform="translate(10.2,68.5) rotate(-90)">B1 (rel.)</text>
<text x="113" y="27.1" font-size="10.4" font-weight="bold" text-anchor="middle">z</text>
<text x="136.3" y="27.1" font-size="10.4" font-weight="bold" text-anchor="middle">x</text>
<text x="41.4" y="225.9" font-size="9.9" text-anchor="middle" font-weight="normal">-60</text>
<text x="69.25" y="225.9" font-size="9.9" text-anchor="middle" font-weight="normal">-40</text>
<text x="97.1" y="225.9" font-size="9.9" text-anchor="middle" font-weight="normal">-20</text>
<text x="124.95" y="225.9" font-size="9.9" text-anchor="middle" font-weight="normal">0</text>
<text x="152.8" y="225.9" font-size="9.9" text-anchor="middle" font-weight="normal">20</text>
<text x="180.65" y="225.9" font-size="9.9" text-anchor="middle" font-weight="normal">40</text>
<text x="208.5" y="225.9" font-size="9.9" text-anchor="middle" font-weight="normal">60</text>
<text x="32.7" y="145.65" font-size="9.7" text-anchor="end" font-weight="normal">0.80</text>
<text x="32.7" y="163.79" font-size="9.7" text-anchor="end" font-weight="normal">0.90</text>
<text x="32.7" y="181.92" font-size="9.7" text-anchor="end" font-weight="normal">1.00</text>
<text x="32.7" y="200.06" font-size="9.7" text-anchor="end" font-weight="normal">1.10</text>
<text x="32.7" y="218.2" font-size="9.7" text-anchor="end" font-weight="normal">1.20</text>
<text x="0" y="0" font-size="11.3" font-weight="bold" text-anchor="middle" transform="translate(10.2,178.32) rotate(-90)">B1 (rel.)</text>
<text x="113" y="137.05" font-size="10.4" font-weight="bold" text-anchor="middle">z</text>
<text x="136.3" y="137.05" font-size="10.4" font-weight="bold" text-anchor="middle">y</text>
<text x="41.4" y="335.4" font-size="9.9" text-anchor="middle" font-weight="normal">-60</text>
<text x="69.25" y="335.4" font-size="9.9" text-anchor="middle" font-weight="normal">-40</text>
<text x="97.1" y="335.4" font-size="9.9" text-anchor="middle" font-weight="normal">-20</text>
<text x="124.95" y="335.4" font-size="9.9" text-anchor="middle" font-weight="normal">0</text>
<text x="152.8" y="335.4" font-size="9.9" text-anchor="middle" font-weight="normal">20</text>
<text x="180.65" y="335.4" font-size="9.9" text-anchor="middle" font-weight="normal">40</text>
<text x="208.5" y="335.4" font-size="9.9" text-anchor="middle" font-weight="normal">60</text>
<text x="32.7" y="254.6" font-size="9.7" text-anchor="end" font-weight="normal">0.80</text>
<text x="32.7" y="272.88" font-size="9.7" text-anchor="end" font-weight="normal">0.90</text>
<text x="32.7" y="291.15" font-size="9.7" text-anchor="end" font-weight="normal">1.00</text>
<text x="32.7" y="309.43" font-size="9.7" text-anchor="end" font-weight="normal">1.10</text>
<text x="32.7" y="327.7" font-size="9.7" text-anchor="end" font-weight="normal">1.20</text>
<text x="0" y="0" font-size="11.3" font-weight="bold" text-anchor="middle" transform="translate(10.2,287.55) rotate(-90)">B1 (rel.)</text>
<text x="113" y="246" font-size="10.4" font-weight="bold" text-anchor="middle">z</text>
<text x="136.3" y="246" font-size="10.4" font-weight="bold" text-anchor="middle">z</text>
<text x="125" y="350.1" font-size="11.5" text-anchor="middle" font-weight="bold">Offset [kHz]</text>
<text x="267.5" y="114.5" font-size="9.9" text-anchor="middle" font-weight="normal">-60</text>
<text x="295.32" y="114.5" font-size="9.9" text-anchor="middle" font-weight="normal">-40</text>
<text x="323.13" y="114.5" font-size="9.9" text-anchor="middle" font-weight="normal">-20</text>
<text x="350.95" y="114.5" font-size="9.9" text-anchor="middle" font-weight="normal">0</text>
<text x="378.77" y="114.5" font-size="9.9" text-anchor="middle" font-weight="normal">20</text>
<text x="406.58" y="114.5" font-size="9.9" text-anchor="middle" font-weight="normal">40</text>
<text x="434.4" y="114.5" font-size="9.9" text-anchor="middle" font-weight="normal">60</text>
<text x="257.9" y="33.85" font-size="9.7" text-anchor="end" font-weight="normal">0.80</text>
<text x="257.9" y="52.09" font-size="9.7" text-anchor="end" font-weight="normal">0.90</text>
<text x="257.9" y="70.33" font-size="9.7" text-anchor="end" font-weight="normal">1.00</text>
<text x="257.9" y="88.56" font-size="9.7" text-anchor="end" font-weight="normal">1.10</text>
<text x="257.9" y="106.8" font-size="9.7" text-anchor="end" font-weight="normal">1.20</text>
<text x="0" y="0" font-size="11.3" font-weight="bold" text-anchor="middle" transform="translate(235.4,66.72) rotate(-90)">B1 (rel.)</text>
<text x="337.4" y="25.25" font-size="10.4" font-weight="bold" text-anchor="middle">z</text>
<text x="360.7" y="25.25" font-size="10.4" font-weight="bold" text-anchor="middle">x</text>
<text x="267.5" y="224.8" font-size="9.9" text-anchor="middle" font-weight="normal">-60</text>
<text x="295.32" y="224.8" font-size="9.9" text-anchor="middle" font-weight="normal">-40</text>
<text x="323.13" y="224.8" font-size="9.9" text-anchor="middle" font-weight="normal">-20</text>
<text x="350.95" y="224.8" font-size="9.9" text-anchor="middle" font-weight="normal">0</text>
<text x="378.77" y="224.8" font-size="9.9" text-anchor="middle" font-weight="normal">20</text>
<text x="406.58" y="224.8" font-size="9.9" text-anchor="middle" font-weight="normal">40</text>
<text x="434.4" y="224.8" font-size="9.9" text-anchor="middle" font-weight="normal">60</text>
<text x="257.9" y="144.1" font-size="9.7" text-anchor="end" font-weight="normal">0.80</text>
<text x="257.9" y="162.35" font-size="9.7" text-anchor="end" font-weight="normal">0.90</text>
<text x="257.9" y="180.6" font-size="9.7" text-anchor="end" font-weight="normal">1.00</text>
<text x="257.9" y="198.85" font-size="9.7" text-anchor="end" font-weight="normal">1.10</text>
<text x="257.9" y="217.1" font-size="9.7" text-anchor="end" font-weight="normal">1.20</text>
<text x="0" y="0" font-size="11.3" font-weight="bold" text-anchor="middle" transform="translate(235.4,177) rotate(-90)">B1 (rel.)</text>
<text x="337.4" y="135.5" font-size="10.4" font-weight="bold" text-anchor="middle">z</text>
<text x="360.7" y="135.5" font-size="10.4" font-weight="bold" text-anchor="middle">y</text>
<text x="267.5" y="333.7" font-size="9.9" text-anchor="middle" font-weight="normal">-60</text>
<text x="295.32" y="333.7" font-size="9.9" text-anchor="middle" font-weight="normal">-40</text>
<text x="323.13" y="333.7" font-size="9.9" text-anchor="middle" font-weight="normal">-20</text>
<text x="350.95" y="333.7" font-size="9.9" text-anchor="middle" font-weight="normal">0</text>
<text x="378.77" y="333.7" font-size="9.9" text-anchor="middle" font-weight="normal">20</text>
<text x="406.58" y="333.7" font-size="9.9" text-anchor="middle" font-weight="normal">40</text>
<text x="434.4" y="333.7" font-size="9.9" text-anchor="middle" font-weight="normal">60</text>
<text x="257.9" y="253.5" font-size="9.7" text-anchor="end" font-weight="normal">0.80</text>
<text x="257.9" y="271.62" font-size="9.7" text-anchor="end" font-weight="normal">0.90</text>
<text x="257.9" y="289.75" font-size="9.7" text-anchor="end" font-weight="normal">1.00</text>
<text x="257.9" y="307.88" font-size="9.7" text-anchor="end" font-weight="normal">1.10</text>
<text x="257.9" y="326" font-size="9.7" text-anchor="end" font-weight="normal">1.20</text>
<text x="0" y="0" font-size="11.3" font-weight="bold" text-anchor="middle" transform="translate(235.4,286.15) rotate(-90)">B1 (rel.)</text>
<text x="337.4" y="244.9" font-size="10.4" font-weight="bold" text-anchor="middle">z</text>
<text x="360.7" y="244.9" font-size="10.4" font-weight="bold" text-anchor="middle">z</text>
<text x="349.8" y="348.4" font-size="11.5" text-anchor="middle" font-weight="bold">Offset [kHz]</text>
<text x="494.4" y="112.8" font-size="9.9" text-anchor="middle" font-weight="normal">-60</text>
<text x="522.08" y="112.8" font-size="9.9" text-anchor="middle" font-weight="normal">-40</text>
<text x="549.77" y="112.8" font-size="9.9" text-anchor="middle" font-weight="normal">-20</text>
<text x="577.45" y="112.8" font-size="9.9" text-anchor="middle" font-weight="normal">0</text>
<text x="605.13" y="112.8" font-size="9.9" text-anchor="middle" font-weight="normal">20</text>
<text x="632.82" y="112.8" font-size="9.9" text-anchor="middle" font-weight="normal">40</text>
<text x="660.5" y="112.8" font-size="9.9" text-anchor="middle" font-weight="normal">60</text>
<text x="484.8" y="32.6" font-size="9.7" text-anchor="end" font-weight="normal">0.80</text>
<text x="484.8" y="50.73" font-size="9.7" text-anchor="end" font-weight="normal">0.90</text>
<text x="484.8" y="68.85" font-size="9.7" text-anchor="end" font-weight="normal">1.00</text>
<text x="484.8" y="86.98" font-size="9.7" text-anchor="end" font-weight="normal">1.10</text>
<text x="484.8" y="105.1" font-size="9.7" text-anchor="end" font-weight="normal">1.20</text>
<text x="0" y="0" font-size="11.3" font-weight="bold" text-anchor="middle" transform="translate(462.3,65.25) rotate(-90)">B1 (rel.)</text>
<text x="564.2" y="24" font-size="10.4" font-weight="bold" text-anchor="middle">z</text>
<text x="587.5" y="24" font-size="10.4" font-weight="bold" text-anchor="middle">x</text>
<text x="494.4" y="222.8" font-size="9.9" text-anchor="middle" font-weight="normal">-60</text>
<text x="522.08" y="222.8" font-size="9.9" text-anchor="middle" font-weight="normal">-40</text>
<text x="549.77" y="222.8" font-size="9.9" text-anchor="middle" font-weight="normal">-20</text>
<text x="577.45" y="222.8" font-size="9.9" text-anchor="middle" font-weight="normal">0</text>
<text x="605.13" y="222.8" font-size="9.9" text-anchor="middle" font-weight="normal">20</text>
<text x="632.82" y="222.8" font-size="9.9" text-anchor="middle" font-weight="normal">40</text>
<text x="660.5" y="222.8" font-size="9.9" text-anchor="middle" font-weight="normal">60</text>
<text x="484.8" y="142.6" font-size="9.7" text-anchor="end" font-weight="normal">0.80</text>
<text x="484.8" y="160.72" font-size="9.7" text-anchor="end" font-weight="normal">0.90</text>
<text x="484.8" y="178.85" font-size="9.7" text-anchor="end" font-weight="normal">1.00</text>
<text x="484.8" y="196.97" font-size="9.7" text-anchor="end" font-weight="normal">1.10</text>
<text x="484.8" y="215.1" font-size="9.7" text-anchor="end" font-weight="normal">1.20</text>
<text x="0" y="0" font-size="11.3" font-weight="bold" text-anchor="middle" transform="translate(462.3,175.25) rotate(-90)">B1 (rel.)</text>
<text x="564.2" y="134" font-size="10.4" font-weight="bold" text-anchor="middle">z</text>
<text x="587.5" y="134" font-size="10.4" font-weight="bold" text-anchor="middle">y</text>
<text x="494.4" y="331.6" font-size="9.9" text-anchor="middle" font-weight="normal">-60</text>
<text x="522.08" y="331.6" font-size="9.9" text-anchor="middle" font-weight="normal">-40</text>
<text x="549.77" y="331.6" font-size="9.9" text-anchor="middle" font-weight="normal">-20</text>
<text x="577.45" y="331.6" font-size="9.9" text-anchor="middle" font-weight="normal">0</text>
<text x="605.13" y="331.6" font-size="9.9" text-anchor="middle" font-weight="normal">20</text>
<text x="632.82" y="331.6" font-size="9.9" text-anchor="middle" font-weight="normal">40</text>
<text x="660.5" y="331.6" font-size="9.9" text-anchor="middle" font-weight="normal">60</text>
<text x="484.8" y="251.4" font-size="9.7" text-anchor="end" font-weight="normal">0.80</text>
<text x="484.8" y="269.52" font-size="9.7" text-anchor="end" font-weight="normal">0.90</text>
<text x="484.8" y="287.65" font-size="9.7" text-anchor="end" font-weight="normal">1.00</text>
<text x="484.8" y="305.77" font-size="9.7" text-anchor="end" font-weight="normal">1.10</text>
<text x="484.8" y="323.9" font-size="9.7" text-anchor="end" font-weight="normal">1.20</text>
<text x="0" y="0" font-size="11.3" font-weight="bold" text-anchor="middle" transform="translate(462.3,284.05) rotate(-90)">B1 (rel.)</text>
<text x="564.2" y="242.8" font-size="10.4" font-weight="bold" text-anchor="middle">z</text>
<text x="587.5" y="242.8" font-size="10.4" font-weight="bold" text-anchor="middle">z</text>
<text x="576.15" y="346.3" font-size="11.5" text-anchor="middle" font-weight="bold">Offset [kHz]</text>
<text x="155.3" y="479.3" font-size="9.9" text-anchor="middle" font-weight="normal">-60</text>
<text x="183.17" y="479.3" font-size="9.9" text-anchor="middle" font-weight="normal">-40</text>
<text x="211.03" y="479.3" font-size="9.9" text-anchor="middle" font-weight="normal">-20</text>
<text x="238.9" y="479.3" font-size="9.9" text-anchor="middle" font-weight="normal">0</text>
<text x="266.77" y="479.3" font-size="9.9" text-anchor="middle" font-weight="normal">20</text>
<text x="294.63" y="479.3" font-size="9.9" text-anchor="middle" font-weight="normal">40</text>
<text x="322.5" y="479.3" font-size="9.9" text-anchor="middle" font-weight="normal">60</text>
<text x="145.7" y="398.7" font-size="9.7" text-anchor="end" font-weight="normal">0.80</text>
<text x="145.7" y="416.93" font-size="9.7" text-anchor="end" font-weight="normal">0.90</text>
<text x="145.7" y="435.15" font-size="9.7" text-anchor="end" font-weight="normal">1.00</text>
<text x="145.7" y="453.37" font-size="9.7" text-anchor="end" font-weight="normal">1.10</text>
<text x="145.7" y="471.6" font-size="9.7" text-anchor="end" font-weight="normal">1.20</text>
<text x="0" y="0" font-size="11.3" font-weight="bold" text-anchor="middle" transform="translate(123.2,431.55) rotate(-90)">B1 (rel.)</text>
<text x="226.4" y="390.1" font-size="10.4" font-weight="bold" text-anchor="middle">z</text>
<text x="249.7" y="390.1" font-size="10.4" font-weight="bold" text-anchor="middle">x</text>
<text x="155.3" y="589.3" font-size="9.9" text-anchor="middle" font-weight="normal">-60</text>
<text x="183.17" y="589.3" font-size="9.9" text-anchor="middle" font-weight="normal">-40</text>
<text x="211.03" y="589.3" font-size="9.9" text-anchor="middle" font-weight="normal">-20</text>
<text x="238.9" y="589.3" font-size="9.9" text-anchor="middle" font-weight="normal">0</text>
<text x="266.77" y="589.3" font-size="9.9" text-anchor="middle" font-weight="normal">20</text>
<text x="294.63" y="589.3" font-size="9.9" text-anchor="middle" font-weight="normal">40</text>
<text x="322.5" y="589.3" font-size="9.9" text-anchor="middle" font-weight="normal">60</text>
<text x="145.7" y="509.1" font-size="9.7" text-anchor="end" font-weight="normal">0.80</text>
<text x="145.7" y="527.23" font-size="9.7" text-anchor="end" font-weight="normal">0.90</text>
<text x="145.7" y="545.35" font-size="9.7" text-anchor="end" font-weight="normal">1.00</text>
<text x="145.7" y="563.48" font-size="9.7" text-anchor="end" font-weight="normal">1.10</text>
<text x="145.7" y="581.6" font-size="9.7" text-anchor="end" font-weight="normal">1.20</text>
<text x="0" y="0" font-size="11.3" font-weight="bold" text-anchor="middle" transform="translate(123.2,541.75) rotate(-90)">B1 (rel.)</text>
<text x="226.4" y="500.5" font-size="10.4" font-weight="bold" text-anchor="middle">z</text>
<text x="249.7" y="500.5" font-size="10.4" font-weight="bold" text-anchor="middle">y</text>
<text x="155.3" y="698.5" font-size="9.9" text-anchor="middle" font-weight="normal">-60</text>
<text x="183.17" y="698.5" font-size="9.9" text-anchor="middle" font-weight="normal">-40</text>
<text x="211.03" y="698.5" font-size="9.9" text-anchor="middle" font-weight="normal">-20</text>
<text x="238.9" y="698.5" font-size="9.9" text-anchor="middle" font-weight="normal">0</text>
<text x="266.77" y="698.5" font-size="9.9" text-anchor="middle" font-weight="normal">20</text>
<text x="294.63" y="698.5" font-size="9.9" text-anchor="middle" font-weight="normal">40</text>
<text x="322.5" y="698.5" font-size="9.9" text-anchor="middle" font-weight="normal">60</text>
<text x="145.7" y="618.1" font-size="9.7" text-anchor="end" font-weight="normal">0.80</text>
<text x="145.7" y="636.28" font-size="9.7" text-anchor="end" font-weight="normal">0.90</text>
<text x="145.7" y="654.45" font-size="9.7" text-anchor="end" font-weight="normal">1.00</text>
<text x="145.7" y="672.62" font-size="9.7" text-anchor="end" font-weight="normal">1.10</text>
<text x="145.7" y="690.8" font-size="9.7" text-anchor="end" font-weight="normal">1.20</text>
<text x="0" y="0" font-size="11.3" font-weight="bold" text-anchor="middle" transform="translate(123.2,650.85) rotate(-90)">B1 (rel.)</text>
<text x="226.4" y="609.5" font-size="10.4" font-weight="bold" text-anchor="middle">z</text>
<text x="249.7" y="609.5" font-size="10.4" font-weight="bold" text-anchor="middle">z</text>
<text x="237.9" y="713.2" font-size="11.5" text-anchor="middle" font-weight="bold">Offset [kHz]</text>
<text x="398.4" y="477.3" font-size="9.9" text-anchor="middle" font-weight="normal">-60</text>
<text x="426.28" y="477.3" font-size="9.9" text-anchor="middle" font-weight="normal">-40</text>
<text x="454.17" y="477.3" font-size="9.9" text-anchor="middle" font-weight="normal">-20</text>
<text x="482.05" y="477.3" font-size="9.9" text-anchor="middle" font-weight="normal">0</text>
<text x="509.93" y="477.3" font-size="9.9" text-anchor="middle" font-weight="normal">20</text>
<text x="537.82" y="477.3" font-size="9.9" text-anchor="middle" font-weight="normal">40</text>
<text x="565.7" y="477.3" font-size="9.9" text-anchor="middle" font-weight="normal">60</text>
<text x="389.6" y="396.8" font-size="9.7" text-anchor="end" font-weight="normal">0.80</text>
<text x="389.6" y="415" font-size="9.7" text-anchor="end" font-weight="normal">0.90</text>
<text x="389.6" y="433.2" font-size="9.7" text-anchor="end" font-weight="normal">1.00</text>
<text x="389.6" y="451.4" font-size="9.7" text-anchor="end" font-weight="normal">1.10</text>
<text x="389.6" y="469.6" font-size="9.7" text-anchor="end" font-weight="normal">1.20</text>
<text x="0" y="0" font-size="11.3" font-weight="bold" text-anchor="middle" transform="translate(367.1,429.6) rotate(-90)">B1 (rel.)</text>
<text x="469" y="388.2" font-size="10.4" font-weight="bold" text-anchor="middle">z</text>
<text x="492.3" y="388.2" font-size="10.4" font-weight="bold" text-anchor="middle">x</text>
<text x="398.4" y="587.3" font-size="9.9" text-anchor="middle" font-weight="normal">-60</text>
<text x="426.28" y="587.3" font-size="9.9" text-anchor="middle" font-weight="normal">-40</text>
<text x="454.17" y="587.3" font-size="9.9" text-anchor="middle" font-weight="normal">-20</text>
<text x="482.05" y="587.3" font-size="9.9" text-anchor="middle" font-weight="normal">0</text>
<text x="509.93" y="587.3" font-size="9.9" text-anchor="middle" font-weight="normal">20</text>
<text x="537.82" y="587.3" font-size="9.9" text-anchor="middle" font-weight="normal">40</text>
<text x="565.7" y="587.3" font-size="9.9" text-anchor="middle" font-weight="normal">60</text>
<text x="389.6" y="507.1" font-size="9.7" text-anchor="end" font-weight="normal">0.80</text>
<text x="389.6" y="525.23" font-size="9.7" text-anchor="end" font-weight="normal">0.90</text>
<text x="389.6" y="543.35" font-size="9.7" text-anchor="end" font-weight="normal">1.00</text>
<text x="389.6" y="561.48" font-size="9.7" text-anchor="end" font-weight="normal">1.10</text>
<text x="389.6" y="579.6" font-size="9.7" text-anchor="end" font-weight="normal">1.20</text>
<text x="0" y="0" font-size="11.3" font-weight="bold" text-anchor="middle" transform="translate(367.1,539.75) rotate(-90)">B1 (rel.)</text>
<text x="469" y="498.5" font-size="10.4" font-weight="bold" text-anchor="middle">z</text>
<text x="492.3" y="498.5" font-size="10.4" font-weight="bold" text-anchor="middle">y</text>
<text x="398.4" y="696.7" font-size="9.9" text-anchor="middle" font-weight="normal">-60</text>
<text x="426.28" y="696.7" font-size="9.9" text-anchor="middle" font-weight="normal">-40</text>
<text x="454.17" y="696.7" font-size="9.9" text-anchor="middle" font-weight="normal">-20</text>
<text x="482.05" y="696.7" font-size="9.9" text-anchor="middle" font-weight="normal">0</text>
<text x="509.93" y="696.7" font-size="9.9" text-anchor="middle" font-weight="normal">20</text>
<text x="537.82" y="696.7" font-size="9.9" text-anchor="middle" font-weight="normal">40</text>
<text x="565.7" y="696.7" font-size="9.9" text-anchor="middle" font-weight="normal">60</text>
<text x="389.6" y="616.4" font-size="9.7" text-anchor="end" font-weight="normal">0.80</text>
<text x="389.6" y="634.55" font-size="9.7" text-anchor="end" font-weight="normal">0.90</text>
<text x="389.6" y="652.7" font-size="9.7" text-anchor="end" font-weight="normal">1.00</text>
<text x="389.6" y="670.85" font-size="9.7" text-anchor="end" font-weight="normal">1.10</text>
<text x="389.6" y="689" font-size="9.7" text-anchor="end" font-weight="normal">1.20</text>
<text x="0" y="0" font-size="11.3" font-weight="bold" text-anchor="middle" transform="translate(367.1,649.1) rotate(-90)">B1 (rel.)</text>
<text x="469" y="607.8" font-size="10.4" font-weight="bold" text-anchor="middle">z</text>
<text x="492.3" y="607.8" font-size="10.4" font-weight="bold" text-anchor="middle">z</text>
<text x="480.7" y="711.4" font-size="11.5" text-anchor="middle" font-weight="bold">Offset [kHz]</text>
<text x="0.5" y="15.5" font-size="16" text-anchor="start" font-weight="normal">A</text>
<text x="223.7" y="13.8" font-size="16" text-anchor="start" font-weight="normal">B</text>
<text x="450.5" y="13.9" font-size="16" text-anchor="start" font-weight="normal">C</text>
<text x="112.6" y="381.4" font-size="16" text-anchor="start" font-weight="normal">D</text>
<text x="353.5" y="378.5" font-size="16" text-anchor="start" font-weight="normal">E</text>
<text x="125.8" y="15.2" font-size="16" text-anchor="middle" font-weight="normal">SURBOP90</text>
<text x="348.5" y="14.2" font-size="16" text-anchor="middle" font-weight="normal">Q5</text>
<text x="576.6" y="13.9" font-size="16" text-anchor="middle" font-weight="normal">G4</text>
<text x="240.1" y="381.5" font-size="16" text-anchor="middle" font-weight="normal">SURBOP180</text>
<text x="479.6" y="378.6" font-size="16" text-anchor="middle" font-weight="normal">Q3</text>
<text x="625" y="394.8" font-size="9.2" text-anchor="start" font-weight="normal">1</text>
<text x="625" y="424.08" font-size="9.2" text-anchor="start" font-weight="normal">0.8</text>
<text x="625" y="453.36" font-size="9.2" text-anchor="start" font-weight="normal">0.6</text>
<text x="625" y="482.64" font-size="9.2" text-anchor="start" font-weight="normal">0.4</text>
<text x="625" y="511.92" font-size="9.2" text-anchor="start" font-weight="normal">0.2</text>
<text x="625" y="541.2" font-size="9.2" text-anchor="start" font-weight="normal">0</text>
<text x="625" y="570.48" font-size="9.2" text-anchor="start" font-weight="normal">-0.2</text>
<text x="625" y="599.76" font-size="9.2" text-anchor="start" font-weight="normal">-0.4</text>
<text x="625" y="629.04" font-size="9.2" text-anchor="start" font-weight="normal">-0.6</text>
<text x="625" y="658.32" font-size="9.2" text-anchor="start" font-weight="normal">-0.8</text>
<text x="625" y="687.6" font-size="9.2" text-anchor="start" font-weight="normal">-1</text>
</svg>
</body></html>
